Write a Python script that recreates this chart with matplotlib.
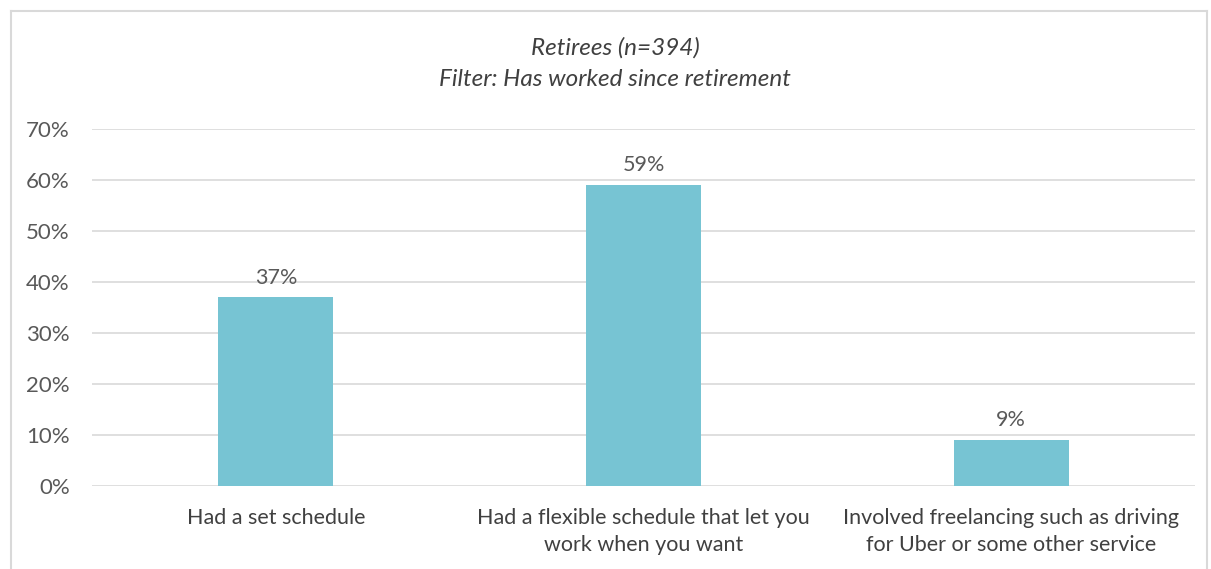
import matplotlib
matplotlib.use("Agg")
import matplotlib.pyplot as plt
from matplotlib.lines import Line2D

CATEGORIES = ["Had a set schedule",
              "Had a flexible schedule that let you\nwork when you want",
              "Involved freelancing such as driving\nfor Uber or some other service"]
VALUES = [37, 59, 9]
Y_TICKS = [0, 10, 20, 30, 40, 50, 60, 70]
TITLE = "Retirees (n=394)\nFilter: Has worked since retirement"

BAR_COLOR = "#77C4D3"
TEXT_COLOR = "#595959"
GRID_COLOR = "#D9D9D9"

plt.rcParams['font.family'] = ['Lato', 'DejaVu Sans']

fig = plt.figure(figsize=(12.11, 5.69), dpi=100)
ax = fig.add_axes([0.076, 0.1459, 0.9108, 0.6274])

x = list(range(len(CATEGORIES)))
ax.bar(x, VALUES, width=0.313, color=BAR_COLOR, zorder=3)
for xi, v in zip(x, VALUES):
    ax.annotate(f"{v}%", (xi, v), xytext=(0, 7), textcoords="offset points",
                ha="center", va="bottom", fontsize=15.5, color=TEXT_COLOR)

ax.set_xlim(-0.5, len(CATEGORIES) - 0.5)
ax.set_ylim(0, 70)
ax.set_yticks(Y_TICKS)
ax.set_yticklabels([f"{t}%" for t in Y_TICKS], fontsize=16, color=TEXT_COLOR)
ax.set_xticks(x)
ax.set_xticklabels(CATEGORIES, fontsize=15.5, color="#404040", linespacing=1.45)
ax.tick_params(axis="both", length=0)
ax.tick_params(axis="y", pad=16)
ax.tick_params(axis="x", pad=16)
ax.grid(axis="y", color=GRID_COLOR, linewidth=1.2, zorder=0)
for s in ax.spines.values():
    s.set_visible(False)

fig.text(0.508, 0.888, TITLE, ha="center", va="center", fontsize=17.5,
         style="italic", color="#404040", linespacing=1.6)

# outer chart border (bottom edge falls outside the image)
bx0, bx1, by1 = 11 / 1211, 1207 / 1211, 1 - 11 / 569
for xs, ys in [([bx0, bx0], [0, by1]), ([bx0, bx1], [by1, by1]), ([bx1, bx1], [by1, 0])]:
    fig.add_artist(Line2D(xs, ys, transform=fig.transFigure, color=GRID_COLOR, linewidth=1.5))

fig.savefig("out.png", dpi=100)
